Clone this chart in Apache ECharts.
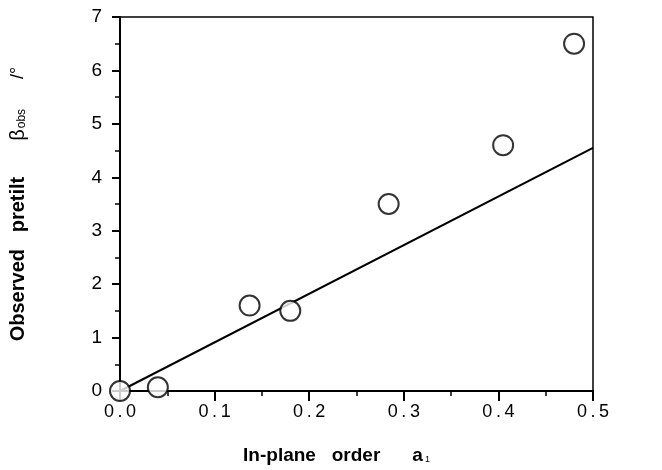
<!DOCTYPE html>
<html><head><meta charset="utf-8">
<script src="https://cdn.jsdelivr.net/npm/echarts@6/dist/echarts.min.js"></script>
<style>html,body{margin:0;padding:0;background:#fff}#c{width:662px;height:470px}</style>
</head><body><div id="c"></div>
<script>
const orderA1 = [0.0, 0.04, 0.137, 0.18, 0.284, 0.405, 0.48];
const pretilt = [0.0, 0.07, 1.6, 1.5, 3.5, 4.6, 6.5];
const fitX = [0.0, 0.5];
const fitY = [0.0, 4.55];
const xTicks = [0, 0.1, 0.2, 0.3, 0.4, 0.5];
const yTicks = [0, 1, 2, 3, 4, 5, 6, 7];

const chart = echarts.init(document.getElementById('c'));
const font = 'Liberation Sans, Arial, sans-serif';
chart.setOption({
  animation: false,
  backgroundColor: '#fff',
  grid: {left: 118, right: 69, top: 17, bottom: 78, show: true, borderColor: '#000', borderWidth: 1.5},
  xAxis: {
    type: 'value', min: 0, max: 0.5, interval: 0.1,
    axisLine: {lineStyle: {color: '#000', width: 2}},
    axisTick: {show: true, length: 10, lineStyle: {color: '#000', width: 2}},
    minorTick: {show: true, splitNumber: 2, length: 5, lineStyle: {color: '#000', width: 1.5}},
    splitLine: {show: false},
    axisLabel: {color: '#000', fontFamily: font, fontSize: 18, margin: 12,
      formatter: v => v.toFixed(1).split('').join('\u2009')},
    name: '{b|In-plane   order}{a|a}{s|1}',
    nameLocation: 'middle', nameGap: 55,
    nameTextStyle: {rich: {
      b: {fontFamily: font, fontWeight: 'bold', fontSize: 19, color: '#000'},
      a: {fontFamily: font, fontWeight: 'bold', fontSize: 19, color: '#000', padding: [0,0,0,32]},
      s: {fontFamily: font, fontSize: 9, color: '#000', padding: [8,40,0,2]}
    }}
  },
  yAxis: {
    type: 'value', min: 0, max: 7, interval: 1,
    axisLine: {show: true, lineStyle: {color: '#000', width: 2}},
    axisTick: {show: true, length: 8, lineStyle: {color: '#000', width: 2}},
    minorTick: {show: true, splitNumber: 2, length: 5, lineStyle: {color: '#000', width: 1.5}},
    splitLine: {show: false},
    axisLabel: {color: '#000', fontFamily: font, fontSize: 19, margin: 18},
    name: '{b|Observed   pretilt}{g|β}{s|obs}{n|/°}',
    nameLocation: 'middle', nameGap: 92, nameRotate: 90,
    nameTextStyle: {rich: {
      b: {fontFamily: font, fontWeight: 'bold', fontSize: 20, color: '#000'},
      g: {fontFamily: font, fontSize: 20, color: '#000', padding: [0,0,0,36]},
      n: {fontFamily: font, fontSize: 18, color: '#000', padding: [0,0,0,30]},
      s: {fontFamily: font, fontSize: 12, color: '#000', padding: [7,0,0,1]}
    }}
  },
  series: [
    {type: 'line', data: fitX.map((x, i) => [x, fitY[i]]), symbol: 'none',
     lineStyle: {color: '#000', width: 2}, z: 2},
    {type: 'scatter', data: orderA1.map((x, i) => [x, pretilt[i]]), symbol: 'circle', symbolSize: 20,
     itemStyle: {color: '#fff', borderColor: '#000', borderWidth: 2}, z: 3}
  ]
});
</script></body></html>
